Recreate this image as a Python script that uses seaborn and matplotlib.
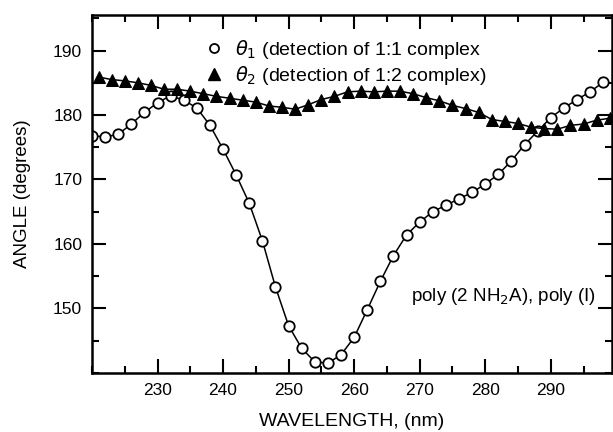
import numpy as np
import pandas as pd
import matplotlib
matplotlib.use('Agg')
import matplotlib.pyplot as plt
import seaborn as sns
from matplotlib.lines import Line2D
from matplotlib.ticker import MultipleLocator

sns.set_style('ticks')
plt.rcParams['font.family'] = ['Liberation Sans', 'DejaVu Sans']
plt.rcParams['mathtext.fontset'] = 'dejavusans'
plt.rcParams['text.color'] = 'black'
plt.rcParams['axes.labelcolor'] = 'black'
plt.rcParams['xtick.color'] = 'black'
plt.rcParams['ytick.color'] = 'black'

# theta 1 : detection of 1:1 complex (open circles)
wl1 = [220, 222, 224, 226, 228, 230, 232, 234, 236, 238, 240, 242, 244, 246,
       248, 250, 252, 254, 256, 258, 260, 262, 264, 266, 268, 270, 272, 274,
       276, 278, 280, 282, 284, 286, 288, 290, 292, 294, 296, 298]
theta1 = [176.8, 176.6, 177.0, 178.6, 180.4, 181.9, 183.0, 182.3, 181.1, 178.4,
          174.7, 170.7, 166.3, 160.5, 153.3, 147.3, 143.8, 141.7, 141.5, 142.8,
          145.5, 149.8, 154.2, 158.2, 161.4, 163.4, 165.0, 166.0, 167.0, 168.0,
          169.3, 170.8, 172.9, 175.4, 177.5, 179.6, 181.1, 182.4, 183.6, 185.1]

# theta 2 : detection of 1:2 complex (filled triangles)
wl2 = [221, 223, 225, 227, 229, 231, 233, 235, 237, 239, 241, 243, 245, 247,
       249, 251, 253, 255, 257, 259, 261, 263, 265, 267, 269, 271, 273, 275,
       277, 279, 281, 283, 285, 287, 289, 291, 293, 295, 297, 299]
theta2 = [185.9, 185.5, 185.3, 185.0, 184.6, 184.0, 184.0, 183.7, 183.3, 182.9,
          182.6, 182.3, 182.0, 181.4, 181.2, 180.9, 181.6, 182.4, 182.9, 183.6,
          183.7, 183.6, 183.7, 183.7, 183.3, 182.7, 182.2, 181.5, 181.0, 180.4,
          179.3, 179.0, 178.7, 178.1, 177.9, 177.8, 178.4, 178.6, 179.2, 179.5]

df1 = pd.DataFrame({'wl': wl1, 'angle': theta1})
df2 = pd.DataFrame({'wl': wl2, 'angle': theta2})

fig = plt.figure(figsize=(6.13, 4.32), dpi=100)
ax = fig.add_axes([0.150, 0.137, 0.848, 0.828])

sns.lineplot(data=df1, x='wl', y='angle', ax=ax, color='black', linewidth=1.1,
             marker='o', markersize=7.5, markerfacecolor='white',
             markeredgecolor='black', markeredgewidth=1.3)
sns.lineplot(data=df2, x='wl', y='angle', ax=ax, color='black', linewidth=1.1,
             marker='^', markersize=8, markerfacecolor='black',
             markeredgecolor='black')

ax.set_xlim(220, 299.3)
ax.set_ylim(140, 195.5)
ax.xaxis.set_minor_locator(MultipleLocator(5))
ax.yaxis.set_minor_locator(MultipleLocator(5))
ax.set_xticks([230, 240, 250, 260, 270, 280, 290])
ax.set_yticks([150, 160, 170, 180, 190])
ax.tick_params(which='both', direction='in', top=True, right=True, width=1.5,
               labelsize=12.5, color='black', labelcolor='black')
ax.tick_params(which='major', length=10, pad=7)
ax.tick_params(which='minor', length=5)
for s in ax.spines.values():
    s.set_linewidth(1.8)
    s.set_color('black')

ax.set_xlabel('WAVELENGTH, (nm)', fontsize=14, labelpad=11)
ax.set_ylabel('ANGLE (degrees)', fontsize=13.5, labelpad=16)

handles = [
    Line2D([], [], linestyle='none', marker='o', markersize=6.5,
           markerfacecolor='white', markeredgecolor='black', markeredgewidth=1.3),
    Line2D([], [], linestyle='none', marker='^', markersize=8,
           markerfacecolor='black', markeredgecolor='black'),
]
labels = [r'$\theta_1$ (detection of 1:1 complex',
          r'$\theta_2$ (detection of 1:2 complex)']
ax.legend(handles, labels, loc='upper left', bbox_to_anchor=(0.19, 0.975),
          frameon=False, fontsize=14, handlelength=1.0, handletextpad=0.6,
          labelspacing=0.15, borderpad=0.2)

ax.text(268.7, 151.9, r'poly (2 NH$_2$A), poly (I)', fontsize=13.5,
        ha='left', va='center')

fig.savefig('out.png', dpi=100)
